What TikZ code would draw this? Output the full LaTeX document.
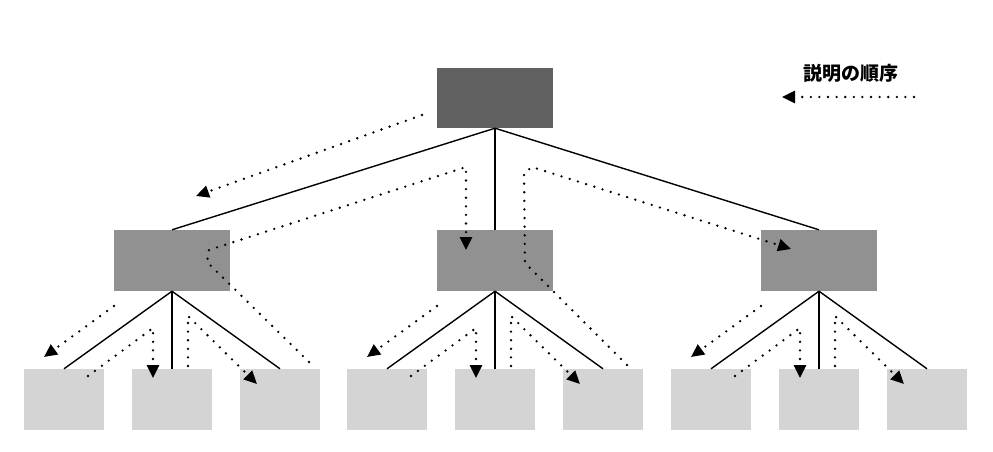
\documentclass[tikz,border=0pt]{standalone}
\usepackage{fontspec}
\usepackage{tikz}
\usetikzlibrary{arrows.meta}
\newfontfamily\jpfont{Noto Sans CJK JP}

\tikzset{
  box/.style={inner sep=0pt, minimum width=80pt, minimum height=61pt},
  rootbox/.style={box, fill=black!62, minimum width=116pt, minimum height=60pt},
  midbox/.style={box, fill=black!43, minimum width=116pt},
  leafbox/.style={box, fill=black!17},
  edge/.style={line width=1.4pt},
  order/.style={line width=2.6pt, line cap=round, dash pattern=on 0pt off 8.6pt,
    -{Triangle[length=13pt,width=12pt]}}
}

\begin{document}
\begin{tikzpicture}[x=1pt, y=-1pt]
    \useasboundingbox (0,0) rectangle (993,452);
    % Tree boxes
    \node[rootbox] (root) at (495,98) {};
    \foreach \m/\cx in {A/172, B/495, C/819} {
        \node[midbox] (mid\m) at (\cx,260.5) {};
        \node[leafbox] (leaf\m1) at (\cx-108,399.5) {};
        \node[leafbox] (leaf\m2) at (\cx,399.5) {};
        \node[leafbox] (leaf\m3) at (\cx+108,399.5) {};
        \foreach \k in {1,2,3}
            \draw[edge] (mid\m.south) -- (leaf\m\k.north);
        % order of explanation below each mid box
        \draw[order] (\cx-58,306) -- (\cx-128,357);
        \draw[order] (\cx-84,376) -- (\cx-19,328) -- (\cx-19,378);
        \draw[order] (\cx+16,366) -- (\cx+16,316) -- (\cx+85,384);
    }
    \foreach \m in {A,B,C}
        \draw[edge] (root.south) -- (mid\m.north);
    % Order of explanation between the upper levels
    \draw[order] (422,115) -- (196,196);
    \draw[order] (309,362) -- (207,262) -- (209,250) -- (466,167) -- (466,250);
    \draw[order] (627,365) -- (525,263) -- (524,173) -- (532,167) -- (791,249);
    % Legend
    \node[font=\jpfont\bfseries\fontsize{19pt}{19pt}\selectfont] (legend) at (851,73) {説明の順序};
    \coordinate (legend start) at (914,97);
    \coordinate (legend end) at (782,97);
    \draw[order] (legend start) -- (legend end);
\end{tikzpicture}
\end{document}
